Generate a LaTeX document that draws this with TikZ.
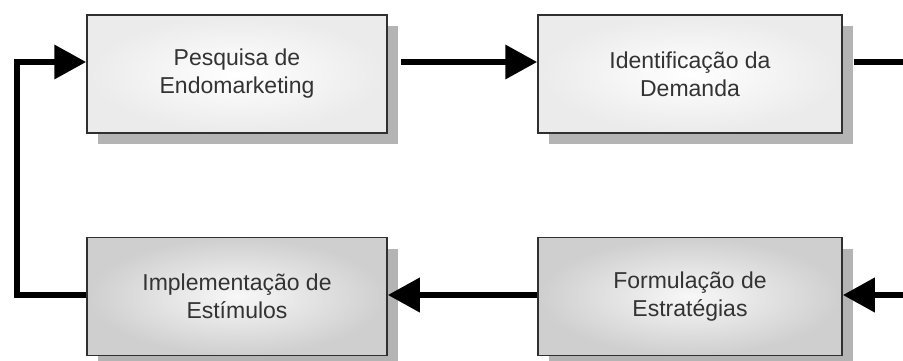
\documentclass[tikz,border=0pt]{standalone}
\usepackage{fontspec}
\setmainfont{Liberation Sans}
\usetikzlibrary{arrows.meta,shadows,calc}
\definecolor{txt}{HTML}{333333}
\definecolor{bord}{HTML}{303030}
\definecolor{shad}{HTML}{B4B4B4}
\tikzset{
  box/.style={draw=bord, line width=1.5pt, minimum height=118pt, inner sep=0pt,
    align=center, text=txt, font=\fontsize{23}{28}\selectfont,
    drop shadow={shadow xshift=11pt, shadow yshift=-11pt, fill=shad, opacity=1}},
  lightbox/.style={box, inner color=white, outer color=black!8},
  darkbox/.style={box, inner color=black!3, outer color=black!19},
  flow/.style={line width=6.8pt, draw=black, line join=miter},
  tip/.style={-{Triangle[length=32pt,width=33pt]}}
}
\begin{document}
\begin{tikzpicture}[x=1pt,y=1pt]
\useasboundingbox (0,0) rectangle (903,-361);
\clip (0,0) rectangle (903,-361);
\node[lightbox, minimum width=300pt] (P) at (237,-74) {Pesquisa de\\Endomarketing};
\node[lightbox, minimum width=304pt] (D) at (690,-74) {Identificação da\\Demanda};
\node[darkbox, minimum width=300pt] (I) at (237,-296.5) {Implementação de\\Estímulos};
\node[darkbox, minimum width=304pt] (F) at (690,-296.5) {Formulação de\\Estratégias};
\coordinate (L) at (17,-62);
\coordinate (R) at (918,-62);
\draw[flow, tip] ([xshift=13pt,yshift=12pt]P.east) -- ([yshift=12pt]D.west);
\draw[flow, tip] ([xshift=11pt,yshift=12pt]D.east) -- (R) |- ([yshift=1.5pt]F.east);
\draw[flow, tip] ([yshift=1.5pt]F.west) -- ([yshift=1.5pt]I.east);
\draw[flow, tip] ([yshift=1.5pt]I.west) -| (L) -- ([yshift=12pt]P.west);
\end{tikzpicture}
\end{document}
